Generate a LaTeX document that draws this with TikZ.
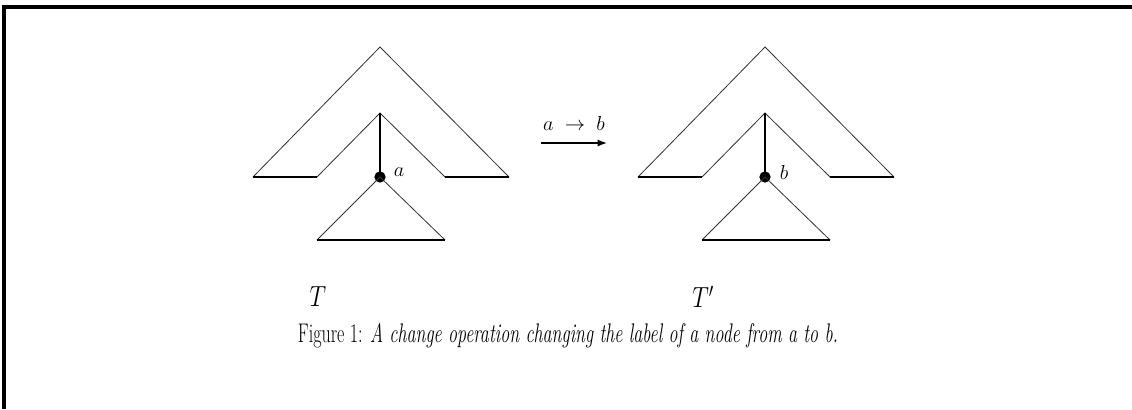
\documentclass[tikz,border=0pt]{standalone}
\usepackage{graphicx}
\usetikzlibrary{arrows.meta}
\newcommand{\narrowtext}[2][0.7]{\scalebox{#1}[1]{#2}}
\begin{document}
\begin{tikzpicture}[x=0.03cm, y=-0.03cm,
    thinline/.style={line width=0.7pt, black!80},
    thickline/.style={line width=2.4pt},
    dot/.style={circle, fill=black, inner sep=0pt, minimum size=0.34cm},
    every node/.style={font=\fontsize{19}{23}\selectfont},
    bigtext/.style={font=\fontsize{23}{27}\selectfont}]
  \useasboundingbox (0,0) rectangle (1132,409);
  % frame
  \draw[line width=2.8pt] (4,409) -- (4,7) -- (1132,7);

  % the two trees, before and after
  \foreach \dx/\lab/\tname [count=\i] in {0/a/T, 385/b/T'} {
    \begin{scope}[shift={(\dx,0)}]
      \coordinate (root\i) at (380,47);
      \coordinate (sub\i) at (380,113);
      \coordinate (ol\i) at (253,177);
      \coordinate (il\i) at (317,177);
      \coordinate (ir\i) at (445,177);
      \coordinate (or\i) at (509,177);
      \coordinate (bl\i) at (317,240);
      \coordinate (br\i) at (445,240);
      \node[dot] (x\i) at (380,177) {};
      \node (lab\i) at (399,172) {$\lab$};
      \node[bigtext] (name\i) at (318,297) {\narrowtext[0.8]{$\tname$}};

      \draw[thinline] (ol\i) -- (root\i) -- (or\i);
      \draw[thinline] (il\i) -- (sub\i) -- (ir\i);
      \draw[thickline] (ol\i) -- (il\i);
      \draw[thickline] (ir\i) -- (or\i);
      \draw[thickline] (sub\i) -- (x\i.center);
      \draw[thinline] (bl\i) -- (x\i.center) -- (br\i);
      \draw[thickline] (bl\i) -- (br\i);
    \end{scope}
  }

  % change operation
  \coordinate (opfrom) at (541,143);
  \coordinate (opto) at (607,143);
  \draw[line width=1.3pt, -{Latex[length=8pt,width=6pt]}] (opfrom) -- (opto);
  \node (oplab) at (574,123) {$a\;\rightarrow\;b$};

  \node[bigtext] (caption) at (568,336) {\narrowtext[0.67]{Figure 1: \textit{A change operation changing the label of a node from a to b.}}};
\end{tikzpicture}
\end{document}
